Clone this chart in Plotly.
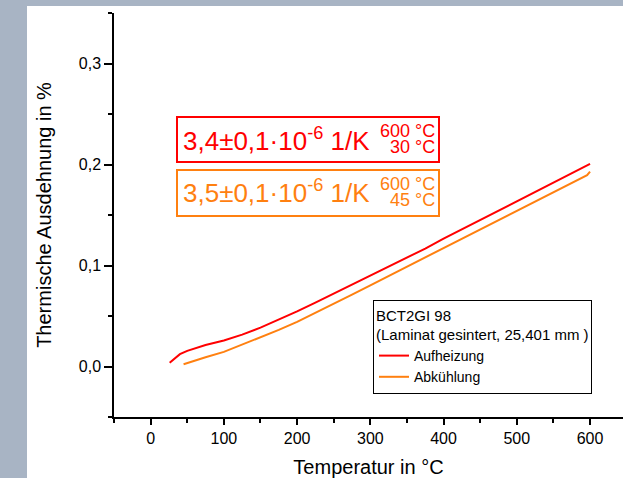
import plotly.graph_objects as go

# ---------------- data ----------------
heat_T = [26, 30, 35, 40, 50, 60, 75, 100, 125, 150, 175, 200, 225, 250, 275, 300,
          325, 350, 375, 400, 425, 450, 475, 500, 525, 550, 575, 590, 600]
heat_dL = [0.0036, 0.0062, 0.0092, 0.0122, 0.0155, 0.0180, 0.0213, 0.0258, 0.0316,
           0.0385, 0.0462, 0.0545, 0.0632, 0.0720, 0.0808, 0.0898, 0.0988, 0.1078,
           0.1168, 0.1265, 0.1357, 0.1449, 0.1541, 0.1633, 0.1725, 0.1817, 0.1909,
           0.1964, 0.2006]

cool_T = [45, 50, 60, 75, 100, 125, 150, 175, 200, 225, 250, 275, 300, 325, 350,
          375, 400, 425, 450, 475, 500, 525, 550, 568, 586, 596, 600]
cool_dL = [0.0023, 0.0035, 0.0058, 0.0092, 0.0145, 0.0215, 0.0290, 0.0362, 0.0442,
           0.0530, 0.0620, 0.0712, 0.0804, 0.0896, 0.0988, 0.1080, 0.1172, 0.1264,
           0.1356, 0.1448, 0.1540, 0.1632, 0.1724, 0.1790, 0.1853, 0.1895, 0.1930]

series_names = ["Aufheizung", "Abkühlung"]
legend_title = "BCT2GI 98<br>(Laminat gesintert, 25,401 mm )"
coef_texts = ["3,4±0,1·10<sup>-6</sup> 1/K", "3,5±0,1·10<sup>-6</sup> 1/K"]
range_hi = ["600 °C", "600 °C"]
range_lo = ["30 °C", "45 °C"]
x_title = "Temperatur in °C"
y_title = "Thermische Ausdehnung in %"

RED = "#ff0000"
ORANGE = "#ff8010"
FONT = "Liberation Sans, Arial, sans-serif"

W, H = 623, 478
ML, MR, MT, MB = 114, 0, 13, 61
PW, PH = W - ML - MR, H - MT - MB


def px(xpix):
    return (xpix - ML) / PW


def py(ypix):
    return (H - MB - ypix) / PH


fig = go.Figure()
fig.add_trace(go.Scatter(x=heat_T, y=heat_dL, mode="lines", name=series_names[0],
                         line=dict(color=RED, width=2)))
fig.add_trace(go.Scatter(x=cool_T, y=cool_dL, mode="lines", name=series_names[1],
                         line=dict(color=ORANGE, width=2)))

xr = [-50, 645]
yr = [-0.05, 0.35]

axis_common = dict(showgrid=False, zeroline=False, linecolor="black", linewidth=1.5,
                   tickcolor="black", tickwidth=1.5, automargin=False)

fig.update_layout(
    width=W, height=H,
    margin=dict(l=ML, r=MR, t=MT, b=MB, pad=0),
    paper_bgcolor="#a8b4c4",
    plot_bgcolor="white",
    separators=",.",
    font=dict(family=FONT, size=16, color="black"),
    xaxis=dict(range=xr, dtick=100, tick0=0, ticks="outside", ticklen=6,
               showline=True,
               minor=dict(dtick=50, tick0=0, ticks="outside", ticklen=4,
                          tickcolor="black", tickwidth=1.5),
               tickfont=dict(size=16),
               title=dict(text=x_title, font=dict(size=20), standoff=16),
               **axis_common),
    yaxis=dict(range=yr, dtick=0.1, tick0=0, tickformat=".1f", ticks="outside",
               ticklen=8, showline=True,
               minor=dict(dtick=0.05, tick0=0, ticks="outside", ticklen=4,
                          tickcolor="black", tickwidth=1.5),
               tickfont=dict(size=16),
               title=dict(text=y_title, font=dict(size=20), standoff=22),
               **axis_common),
    xaxis2=dict(range=xr, overlaying="x", side="top", dtick=100, tick0=0,
                ticks="inside", ticklen=7, showticklabels=False, showline=True,
                minor=dict(dtick=50, tick0=0, ticks="inside", ticklen=4,
                           tickcolor="black", tickwidth=1.5),
                **axis_common),
    yaxis2=dict(range=yr, overlaying="y", side="right", dtick=0.1, tick0=0,
                ticks="inside", ticklen=4, showticklabels=False, showline=False,
                **axis_common),
    showlegend=True,
    legend=dict(x=px(373), y=py(300), xanchor="left", yanchor="top",
                bgcolor="white", bordercolor="black", borderwidth=1,
                font=dict(size=14, family=FONT), itemwidth=30,
                title=dict(text=legend_title, font=dict(size=15, family=FONT)),
                tracegroupgap=0),
)

# white panel behind the plot
fig.add_shape(type="rect", xref="paper", yref="paper",
              x0=px(27), x1=px(W + 20), y0=py(H + 20), y1=py(6),
              fillcolor="white", line=dict(width=0), layer="below")

# coefficient boxes
boxes = [(117, 162, RED, 139, 131, 147), (170, 216, ORANGE, 192, 184, 200)]
for i, (top, bot, col, yc, yhi, ylo) in enumerate(boxes):
    fig.add_shape(type="rect", xref="paper", yref="paper",
                  x0=px(177), x1=px(439), y0=py(bot), y1=py(top),
                  line=dict(color=col, width=2), fillcolor="rgba(0,0,0,0)")
    fig.add_annotation(xref="paper", yref="paper", x=px(181), y=py(yc),
                       xanchor="left", yanchor="middle", showarrow=False,
                       width=192, align="left",
                       text=coef_texts[i], font=dict(size=26, color=col, family=FONT))
    fig.add_annotation(xref="paper", yref="paper", x=px(437), y=py(yhi),
                       xanchor="right", yanchor="middle", showarrow=False,
                       text=range_hi[i], font=dict(size=18, color=col, family=FONT))
    fig.add_annotation(xref="paper", yref="paper", x=px(437), y=py(ylo),
                       xanchor="right", yanchor="middle", showarrow=False,
                       text=range_lo[i], font=dict(size=18, color=col, family=FONT))

fig.write_html("out.html")
